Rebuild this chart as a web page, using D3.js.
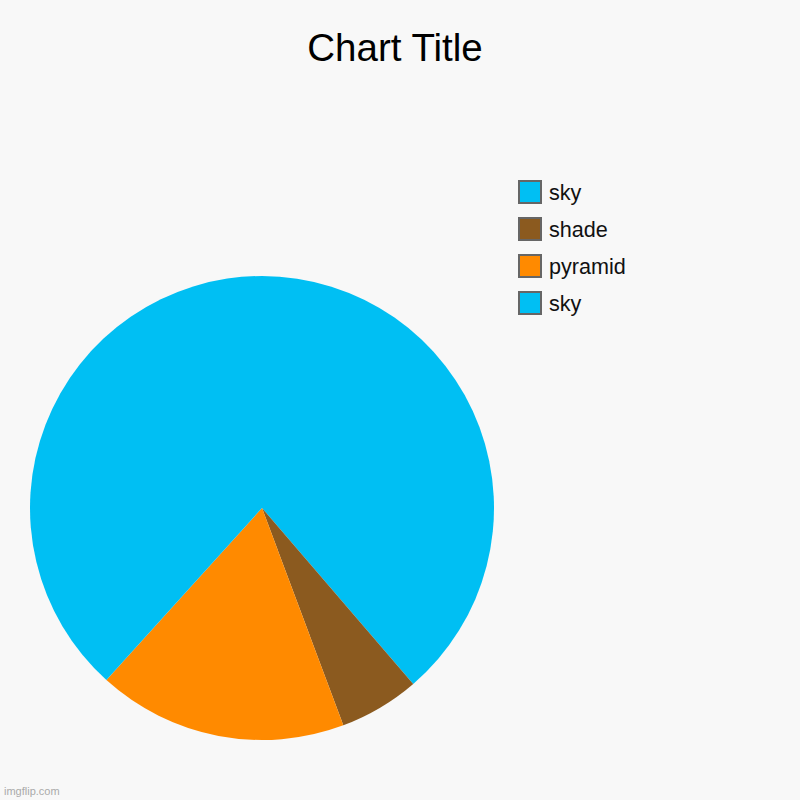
<!DOCTYPE html>
<html>
<head>
<meta charset="utf-8">
<script src="https://cdn.jsdelivr.net/npm/d3@7"></script>
<style>
  body { margin: 0; background: #f8f8f8; }
  svg { display: block; font-family: "Liberation Sans", Arial, sans-serif; }
</style>
</head>
<body>
<svg id="chart" width="800" height="800"></svg>
<script>
const labels = ["sky", "shade", "pyramid", "sky"]
const values = [38.7, 5.6, 17.4, 38.3]
const colors = ["#00bff3", "#8b5a1f", "#ff8a00", "#00bff3"]

const svg = d3.select("#chart")
const width = 800, height = 800
const cx = 262, cy = 508, radius = 232

svg.append("rect")
    .attr("width", width)
    .attr("height", height)
    .attr("fill", "#f8f8f8")

svg.append("text")
    .attr("x", 395)
    .attr("y", 61)
    .attr("text-anchor", "middle")
    .attr("font-size", 38.5)
    .attr("fill", "#000")
    .text("Chart Title")

const pie = d3.pie().sort(null).value(d => d)
const arc = d3.arc().innerRadius(0).outerRadius(radius)

svg.append("g")
    .attr("transform", `translate(${cx},${cy})`)
    .selectAll("path")
    .data(pie(values))
    .enter()
    .append("path")
    .attr("d", arc)
    .attr("fill", (d, i) => colors[i])

const legend = svg.append("g")
    .attr("transform", "translate(519,181)")

const item = legend.selectAll("g")
    .data(labels)
    .enter()
    .append("g")
    .attr("transform", (d, i) => `translate(0,${i * 37})`)

item.append("rect")
    .attr("width", 22)
    .attr("height", 22)
    .attr("fill", (d, i) => colors[i])
    .attr("stroke", "#666")
    .attr("stroke-width", 2)

item.append("text")
    .attr("x", 30)
    .attr("y", 19)
    .attr("font-size", 21.6)
    .attr("fill", "#111")
    .text(d => d)

svg.append("text")
    .attr("x", 4)
    .attr("y", 795)
    .attr("font-size", 11)
    .attr("fill", "#aaa")
    .text("imgflip.com")
</script>
</body>
</html>
